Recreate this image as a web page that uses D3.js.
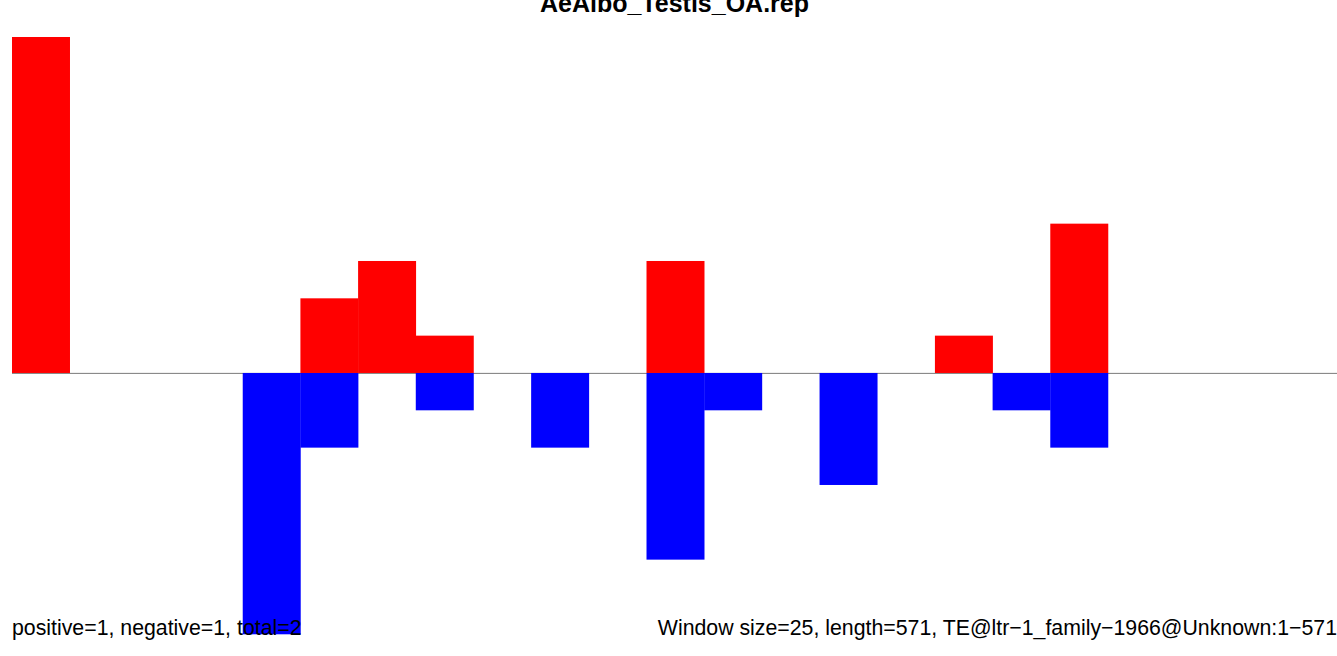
<!DOCTYPE html>
<html><head><meta charset="utf-8">
<script src="https://cdn.jsdelivr.net/npm/d3@7"></script>
<style>html,body{margin:0;padding:0;background:#fff;}svg{display:block;}</style>
</head><body>
<svg id="chart" width="1337" height="656"></svg>
<script>
const title = "AeAlbo_Testis_OA.rep";
const windows = d3.range(23);
const positive = [9,0,0,0,0,2,3,1,0,0,0,3,0,0,0,0,1,0,4,0,0,0,0];
const negative = [0,0,0,0,7,2,0,1,0,2,0,5,1,0,3,0,0,1,2,0,0,0,0];
const leftNote = "positive=1, negative=1, total=2";
const rightNote = "Window size=25, length=571, TE@ltr\u22121_family\u22121966@Unknown:1\u2212571";

const svg = d3.select("#chart");
const x = d3.scaleBand().domain(windows).range([12, 1338.7]).padding(0);
const y = d3.scaleLinear().domain([-7, 9]).range([634.3, 37]);

svg.append("line").attr("x1", 12).attr("x2", 1337)
  .attr("y1", y(0) + 0.4).attr("y2", y(0) + 0.4)
  .attr("stroke", "#7a7a7a").attr("stroke-width", 1);

svg.append("g").selectAll("rect").data(windows.filter(i => positive[i] > 0)).join("rect")
  .attr("x", i => x(i)).attr("width", x.bandwidth() + 0.3)
  .attr("y", i => y(positive[i])).attr("height", i => y(0) - y(positive[i]))
  .attr("fill", "#ff0000");

svg.append("g").selectAll("rect").data(windows.filter(i => negative[i] > 0)).join("rect")
  .attr("x", i => x(i)).attr("width", x.bandwidth() + 0.3)
  .attr("y", y(0)).attr("height", i => y(-negative[i]) - y(0))
  .attr("fill", "#0000ff");

svg.append("text").attr("x", 674.5).attr("y", 12).attr("text-anchor", "middle")
  .attr("font-family", "Liberation Sans, Arial, sans-serif").attr("font-weight", "bold")
  .attr("font-size", 25).attr("fill", "#000").text(title);

svg.append("text").attr("x", 12).attr("y", 635)
  .attr("font-family", "Liberation Sans, Arial, sans-serif")
  .attr("font-size", 21.3).attr("fill", "#000").text(leftNote);

svg.append("text").attr("x", 1337).attr("y", 635).attr("text-anchor", "end")
  .attr("font-family", "Liberation Sans, Arial, sans-serif")
  .attr("font-size", 21.3).attr("fill", "#000").text(rightNote);
</script>
</body></html>
